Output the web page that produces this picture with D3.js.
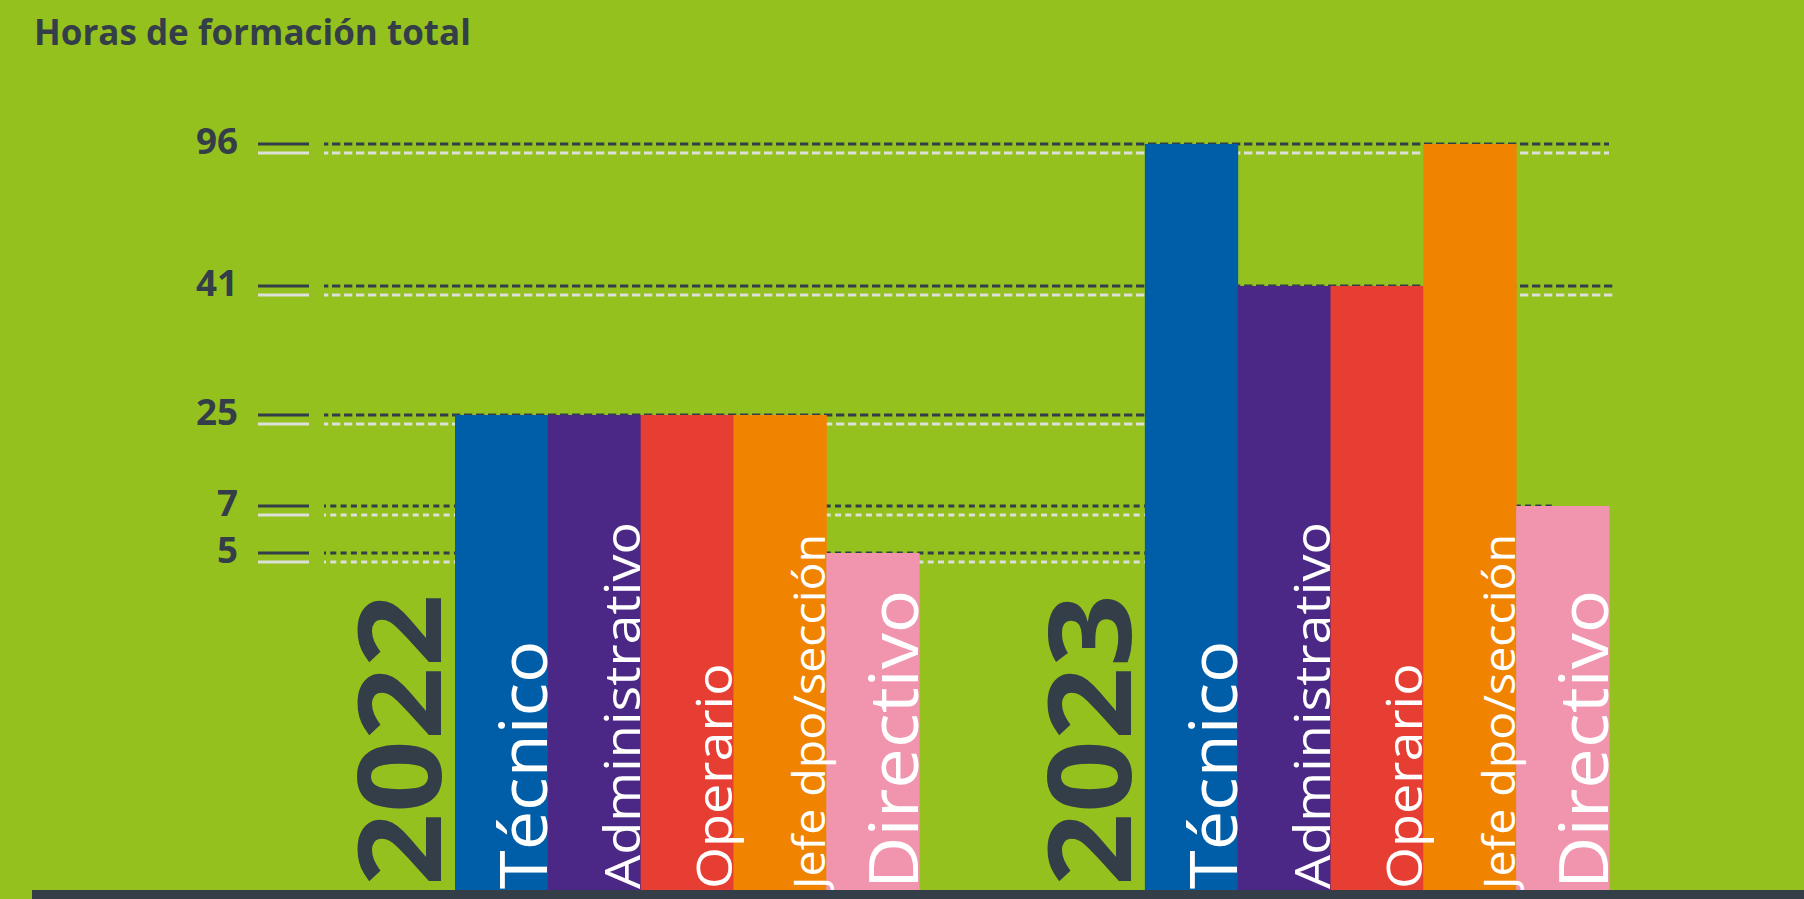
<!DOCTYPE html>
<html>
<head>
<meta charset="utf-8">
<script src="https://cdnjs.cloudflare.com/ajax/libs/d3/7.8.5/d3.min.js"></script>
<style>
    body { margin: 0; background: #95c11f; overflow: hidden; }
</style>
</head>
<body>
<script>

// --- Data ---
var years = ["2022", "2023"];
var categories = ["Técnico", "Administrativo", "Operario", "Jefe dpo/sección", "Directivo"];
var hours_2022 = [25, 25, 25, 25, 5];
var hours_2023 = [96, 41, 41, 96, 7];
var tick_values = [5, 7, 25, 41, 96];
var tick_labels = ["5", "7", "25", "41", "96"];


function stretch_text(sel, k) {
    // widen the fallback font so it takes the room of the original one
    sel.each(function () {
        var len = this.getComputedTextLength();
        d3.select(this)
            .attr("textLength", len * k)
            .attr("lengthAdjust", "spacingAndGlyphs");
    });
}


function draw_chart(place) {

    // --- Colour parameters ---
    var bg_col = "#95c11f",
        dark_col = "#333e48",
        light_col = "#dde0d8",
        bar_cols = ["#005ea8", "#4b2885", "#e63e33", "#f08300", "#f194ae"];

    var font = '"Open Sans", sans-serif',
        label_size = [65, 50, 50, 43, 67],
        stretch = 1.08;

    var width = 1804,
        height = 899,
        base = 891,
        label_w = 105;

    var svg = d3.select(place)
        .append("svg")
        .attr("width", width)
        .attr("height", height);

    svg.append("rect")
        .attr("width", width)
        .attr("height", height)
        .attr("fill", bg_col);


    // --- Scales ---
    // the original axis is not linear: each tick sits on its own step
    var yScale = d3.scaleLinear()
        .domain([0, 5, 7, 25, 41, 96])
        .range([base, 553, 506, 415, 286, 144]);

    var xYear = d3.scaleBand()
        .domain(years)
        .range([350, 1609])
        .paddingInner(0.175);

    var xCat = d3.scaleBand()
        .domain(categories)
        .range([label_w, xYear.bandwidth()]);

    var x_end = xYear("2023") + xYear.bandwidth(),
        x_2023 = xYear("2023") + label_w;

    // where each dotted line stops (most of it hides behind bars)
    var line_end = {5: x_2023, 7: x_end - 57, 25: x_2023, 41: x_end + 6, 96: x_end};
    var dash = {5: "6 4.3", 7: "6 4.3", 25: "8.3 3.7", 41: "8.3 3.7", 96: "8.3 3.7"};


    // ==== Title ====
    svg.append("text")
        .text("Horas de formación total")
        .attr("x", 34)
        .attr("y", 45)
        .attr("font-family", font)
        .attr("font-size", "35px")
        .attr("font-weight", 700)
        .attr("fill", dark_col)
        .call(stretch_text, 1.0);


    // ==== Axis ticks and dotted lines ====
    var ticks = svg.append("g").selectAll("g")
        .data(tick_values)
        .enter().append("g");

    ticks.append("text")
        .text(function (d, i) { return tick_labels[i]; })
        .attr("x", 238)
        .attr("y", function (d) { return yScale(d) + 10; })
        .attr("text-anchor", "end")
        .attr("font-family", font)
        .attr("font-size", "35px")
        .attr("font-weight", 700)
        .attr("fill", dark_col)
        .call(stretch_text, 1.05);

    [0, 9].forEach(function (off, k) {
        var col = k == 0 ? dark_col : light_col;

        ticks.append("line")
            .attr("x1", 258)
            .attr("x2", 309)
            .attr("y1", function (d) { return yScale(d) + off; })
            .attr("y2", function (d) { return yScale(d) + off; })
            .attr("stroke", col)
            .attr("stroke-width", 3);

        ticks.append("line")
            .attr("x1", 324)
            .attr("x2", function (d) { return line_end[d]; })
            .attr("y1", function (d) { return yScale(d) + off; })
            .attr("y2", function (d) { return yScale(d) + off; })
            .attr("stroke", col)
            .attr("stroke-width", 3)
            .attr("stroke-dasharray", function (d) { return dash[d]; })
            .attr("stroke-dashoffset", 4);
    });


    // ==== Bars per year ====
    var series = [hours_2022, hours_2023];

    years.forEach(function (yr, j) {
        var g = svg.append("g")
            .attr("transform", "translate(" + xYear(yr) + ",0)");

        g.selectAll("rect")
            .data(series[j])
            .enter().append("rect")
            .attr("x", function (d, i) { return xCat(categories[i]); })
            .attr("y", function (d) { return yScale(d); })
            .attr("width", xCat.bandwidth() + 0.5)
            .attr("height", function (d) { return base - yScale(d); })
            .attr("fill", function (d, i) { return bar_cols[i]; });

        // year, reading upwards
        g.append("text")
            .text(yr)
            .attr("transform", "translate(" + (label_w - 14) + "," + (base - 5) + ") rotate(-90)")
            .attr("font-family", font)
            .attr("font-size", "115px")
            .attr("font-weight", 700)
            .attr("fill", dark_col)
            .call(stretch_text, 1.11);

        // category names inside the bars
        g.selectAll("text.cat")
            .data(categories)
            .enter().append("text")
            .attr("class", "cat")
            .text(function (d) { return d; })
            .attr("transform", function (d) {
                return "translate(" + (xCat(d) + xCat.bandwidth() - 1) + "," + (base - 2) + ") rotate(-90)";
            })
            .attr("font-family", font)
            .attr("font-size", function (d, i) { return label_size[i] + "px"; })
            .attr("font-weight", 500)
            .attr("fill", "white")
            .call(stretch_text, stretch);
    });


    // ==== Bottom band ====
    svg.append("rect")
        .attr("x", 32)
        .attr("y", base - 1)
        .attr("width", width - 32)
        .attr("height", height - base + 1)
        .attr("fill", dark_col);
}

draw_chart("body");
</script>
</body>
</html>
